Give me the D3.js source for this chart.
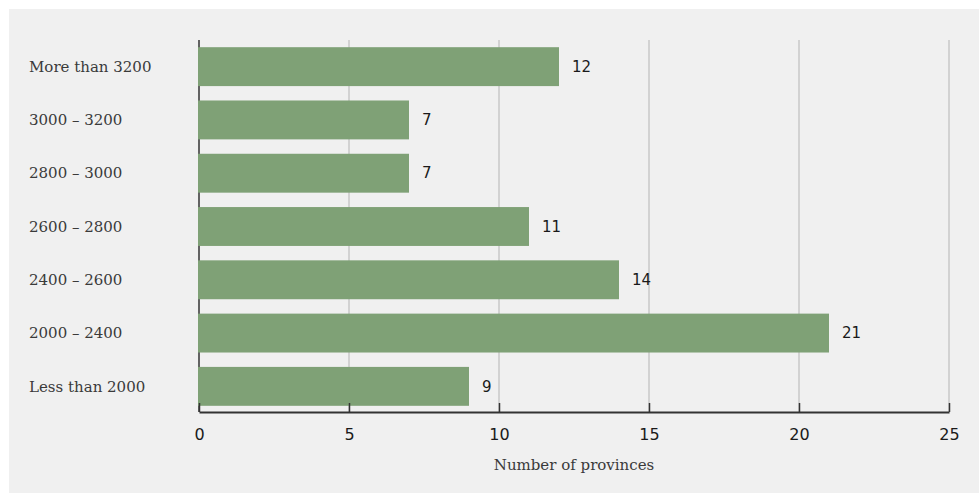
<!DOCTYPE html>
<html>
<head>
<meta charset="utf-8">
<script src="https://cdn.jsdelivr.net/npm/d3@7"></script>
<style>
  html, body { margin: 0; padding: 0; background: #ffffff; }
  svg { display: block; }
</style>
</head>
<body>
<svg id="chart" width="979" height="493"></svg>
<script>
// Provinces by monthly income band
const categories = ["More than 3200", "3000 – 3200", "2800 – 3000", "2600 – 2800", "2400 – 2600", "2000 – 2400", "Less than 2000"];
const counts = [12, 7, 7, 11, 14, 21, 9];
const xTicks = [0, 5, 10, 15, 20, 25];
const xTitle = "Number of provinces";

const svg = d3.select("#chart");
const W = 979, H = 493;

// panel background
svg.append("rect").attr("x", 9).attr("y", 9).attr("width", W - 9).attr("height", H - 9).attr("fill", "#f0f0f0");

const x = d3.scaleLinear().domain([0, 25]).range([199, 949]);
const y = d3.scaleBand().domain(categories).range([40, 413]).paddingInner(0.27).paddingOuter(0.135);

const serif = "'DejaVu Serif', 'Liberation Serif', serif";
const sans = "'DejaVu Sans', 'Noto Sans', sans-serif";

// vertical gridlines
svg.append("g").selectAll("line").data(xTicks.slice(1)).join("line")
  .attr("x1", d => x(d)).attr("x2", d => x(d))
  .attr("y1", 40).attr("y2", 412)
  .attr("stroke", "#c8c8c8").attr("stroke-width", 1.5);

// left axis line
svg.append("line").attr("x1", 199).attr("x2", 199).attr("y1", 40).attr("y2", 412)
  .attr("stroke", "#333").attr("stroke-width", 1.5);

// bars
svg.append("g").selectAll("rect").data(categories).join("rect")
  .attr("x", x(0) - 1)
  .attr("y", d => y(d))
  .attr("width", (d, i) => x(counts[i]) - x(0) + 1)
  .attr("height", y.bandwidth())
  .attr("fill", "#7fa176");

// value labels
svg.append("g").selectAll("text").data(categories).join("text")
  .attr("x", (d, i) => x(counts[i]) + 13)
  .attr("y", d => y(d) + y.bandwidth() / 2)
  .attr("dy", "0.35em")
  .attr("font-family", sans).attr("font-size", 15).attr("fill", "#1a1a1a")
  .text((d, i) => counts[i]);

// category labels
svg.append("g").selectAll("text").data(categories).join("text")
  .attr("x", 29)
  .attr("y", d => y(d) + y.bandwidth() / 2)
  .attr("dy", "0.35em")
  .attr("font-family", serif).attr("font-size", 15).attr("fill", "#3a3a3a")
  .text(d => d);

// bottom axis
const xAxis = d3.axisBottom(x).tickValues(xTicks).tickSize(-9).tickPadding(17).tickSizeOuter(0);
const gx = svg.append("g").attr("transform", "translate(0,412)").call(xAxis);
gx.select(".domain").attr("stroke", "#333").attr("stroke-width", 2);
gx.selectAll(".tick line").attr("stroke", "#333").attr("stroke-width", 1.5);
gx.selectAll(".tick text").attr("font-family", sans).attr("font-size", 16).attr("fill", "#1a1a1a");

// axis title
svg.append("text")
  .attr("x", (x(0) + x(25)) / 2).attr("y", 470)
  .attr("text-anchor", "middle")
  .attr("font-family", serif).attr("font-size", 15).attr("fill", "#3a3a3a")
  .text(xTitle);
</script>
</body>
</html>
